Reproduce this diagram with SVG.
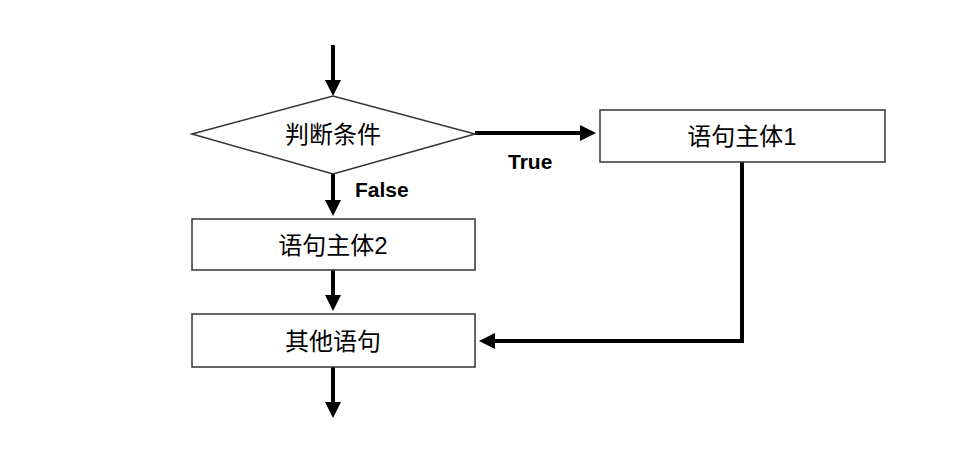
<svg xmlns="http://www.w3.org/2000/svg" width="972" height="468" viewBox="0 0 972 468">
<style>
.n{fill:#fff;stroke:#333;stroke-width:1.5}
.t{font-family:"Liberation Sans","Noto Sans CJK SC",sans-serif;font-size:24px;fill:#000;text-anchor:middle;dominant-baseline:central}
.l{font-family:"Liberation Sans",sans-serif;font-size:21px;font-weight:bold;fill:#000}
.c{fill:none;stroke:#000;stroke-width:4}
</style>
<defs>
<marker id="a" markerWidth="4" markerHeight="4" refX="3" refY="2" orient="auto"><path d="M0,0L4,2L0,4z" fill="#000"/></marker>
</defs>
<rect width="972" height="468" fill="#fff"/>
<g id="connectors">
<line class="c" x1="333" y1="45" x2="333" y2="92" marker-end="url(#a)"/>
<line class="c" x1="475" y1="133" x2="592" y2="133" marker-end="url(#a)"/>
<line class="c" x1="333" y1="174" x2="333" y2="212" marker-end="url(#a)"/>
<line class="c" x1="333" y1="270" x2="333" y2="307" marker-end="url(#a)"/>
<line class="c" x1="333" y1="367" x2="333" y2="414" marker-end="url(#a)"/>
<polyline class="c" points="742,162 742,341 483,341" marker-end="url(#a)"/>
<text class="l" x="508" y="169">True</text>
<text class="l" x="355" y="197">False</text>
</g>
<g id="cond"><polygon class="n" points="192,134 333,96 475,134 333,174"/><text class="t" x="333" y="134">判断条件</text></g>
<g id="body1"><rect class="n" x="600" y="110" width="285" height="52"/><text class="t" x="742" y="136">语句主体1</text></g>
<g id="body2"><rect class="n" x="192" y="219" width="283" height="51"/><text class="t" x="333" y="245">语句主体2</text></g>
<g id="other"><rect class="n" x="192" y="314" width="283" height="53"/><text class="t" x="333" y="341">其他语句</text></g>
</svg>
